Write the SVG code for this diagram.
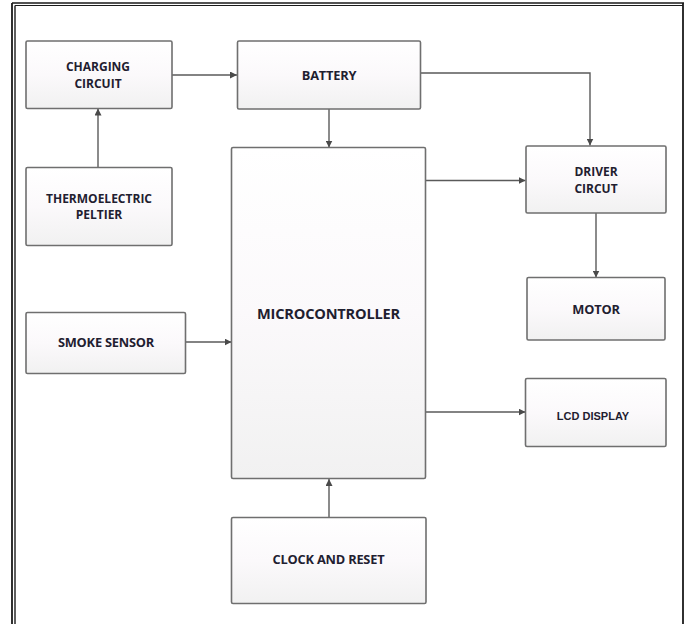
<svg xmlns="http://www.w3.org/2000/svg" width="688" height="624" viewBox="0 0 688 624">
  <defs>
    <linearGradient id="boxFill" x1="0" y1="0" x2="0" y2="1">
      <stop offset="0" stop-color="#ffffff"/>
      <stop offset="0.5" stop-color="#fbf9fb"/>
      <stop offset="1" stop-color="#f1f1f1"/>
    </linearGradient>
    <marker id="arrow" viewBox="0 0 10 10" refX="10" refY="5" markerWidth="7" markerHeight="7" markerUnits="userSpaceOnUse" orient="auto">
      <path d="M0,0 L10,5 L0,10 z" fill="#4a4a4a"/>
    </marker>
  </defs>
  <style>
    .box { fill: url(#boxFill); stroke: #6f6f6f; stroke-width: 1.6; }
    .lbl { font-family: "Open Sans", "Liberation Sans", sans-serif; font-weight: bold; font-size: 12.8px; fill: #1f2030; text-anchor: middle; dominant-baseline: central; letter-spacing: -0.2px; }
    .two { font-size: 12px; letter-spacing: 0; }
    .big { font-size: 14.6px; }
    .lcd { font-family: "Liberation Sans", Arial, sans-serif; font-size: 11px; letter-spacing: 0; }
    .wire { fill: none; stroke: #5a5a5a; stroke-width: 1.4; marker-end: url(#arrow); }
    .frame { fill: none; stroke: #1a1a1a; }
  </style>

  <rect width="688" height="624" fill="#ffffff"/>

  <!-- page frame -->
  <g id="frame">
    <line class="frame" x1="12" y1="3" x2="12" y2="624" stroke-width="1.8"/>
    <line class="frame" x1="15" y1="5.5" x2="15" y2="624" stroke-width="1.4"/>
    <line class="frame" x1="12" y1="3" x2="684" y2="3" stroke-width="1.6"/>
    <line class="frame" x1="15" y1="5.5" x2="683" y2="5.5" stroke-width="1.2"/>
    <line class="frame" x1="683" y1="3" x2="683" y2="624" stroke-width="1.8"/>
  </g>

  <!-- connectors -->
  <g id="connectors">
    <path class="wire" d="M172,75 H237"/>
    <path class="wire" d="M98,167 V108.5"/>
    <path class="wire" d="M329,109 V147.5"/>
    <path class="wire" d="M421,73 H590 V145.5"/>
    <path class="wire" d="M426,180.5 H525.5"/>
    <path class="wire" d="M596,213 V277.5"/>
    <path class="wire" d="M186,342 H231.5"/>
    <path class="wire" d="M426,412 H525.5"/>
    <path class="wire" d="M329,517.5 V479"/>
  </g>

  <g id="charging-circuit">
    <rect class="box" x="26" y="41" width="146" height="67.5" rx="1.5"/>
    <text class="lbl two" x="98" y="66.5">CHARGING</text>
    <text class="lbl two" x="98" y="83">CIRCUIT</text>
  </g>

  <g id="thermoelectric-peltier">
    <rect class="box" x="26" y="167.5" width="146" height="78" rx="1.5"/>
    <text class="lbl two" x="99" y="198">THERMOELECTRIC</text>
    <text class="lbl two" x="99" y="214.5">PELTIER</text>
  </g>

  <g id="battery">
    <rect class="box" x="237.5" y="41" width="183" height="68" rx="1.5"/>
    <text class="lbl" x="329" y="75">BATTERY</text>
  </g>

  <g id="microcontroller">
    <rect class="box" x="231.5" y="147.5" width="194" height="331" rx="1.5"/>
    <text class="lbl big" x="328.5" y="313">MICROCONTROLLER</text>
  </g>

  <g id="smoke-sensor">
    <rect class="box" x="26" y="312.5" width="159.5" height="61" rx="1.5"/>
    <text class="lbl" x="106" y="342">SMOKE SENSOR</text>
  </g>

  <g id="driver-circuit">
    <rect class="box" x="526" y="146" width="140" height="67" rx="1.5"/>
    <text class="lbl two" x="596" y="171.5">DRIVER</text>
    <text class="lbl two" x="596" y="188">CIRCUT</text>
  </g>

  <g id="motor">
    <rect class="box" x="527" y="277.5" width="138" height="62.5" rx="1.5"/>
    <text class="lbl" x="596" y="309">MOTOR</text>
  </g>

  <g id="lcd-display">
    <rect class="box" x="525.5" y="378.5" width="140.5" height="68" rx="1.5"/>
    <text class="lbl lcd" x="593" y="416">LCD DISPLAY</text>
  </g>

  <g id="clock-and-reset">
    <rect class="box" x="231.5" y="517.5" width="194.5" height="86" rx="1.5"/>
    <text class="lbl" x="328.5" y="559">CLOCK AND RESET</text>
  </g>
</svg>
